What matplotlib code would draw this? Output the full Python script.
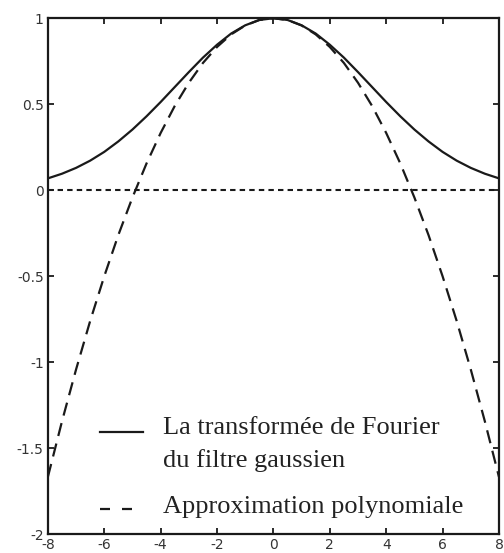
import matplotlib.pyplot as plt

plt.rcParams['axes.unicode_minus'] = False

# Valeurs
x = [-8, -7.5, -7, -6.5, -6, -5.5, -5, -4.5, -4, -3.5, -3, -2.5, -2, -1.5, -1, -0.5,
     0, 0.5, 1, 1.5, 2, 2.5, 3, 3.5, 4, 4.5, 5, 5.5, 6, 6.5, 7, 7.5, 8]
tf_gauss = [0.069, 0.096, 0.130, 0.172, 0.223, 0.284, 0.353, 0.430, 0.513, 0.600,
            0.687, 0.771, 0.846, 0.911, 0.959, 0.990, 1.0, 0.990, 0.959, 0.911,
            0.846, 0.771, 0.687, 0.600, 0.513, 0.430, 0.353, 0.284, 0.223, 0.172,
            0.130, 0.096, 0.069]
approx_poly = [-1.667, -1.344, -1.042, -0.760, -0.500, -0.260, -0.042, 0.156, 0.333,
               0.490, 0.625, 0.740, 0.833, 0.906, 0.958, 0.990, 1.0, 0.990, 0.958,
               0.906, 0.833, 0.740, 0.625, 0.490, 0.333, 0.156, -0.042, -0.260,
               -0.500, -0.760, -1.042, -1.344, -1.667]
zero_x = [-8, 8]
zero_y = [0, 0]

xticks = [-8, -6, -4, -2, 0, 2, 4, 6, 8]
yticks = [-2, -1.5, -1, -0.5, 0, 0.5, 1]
ytick_labels = ['-2', '-1.5', '-1', '-0.5', '0', '0.5', '1']

label_tf = ['La transformée de Fourier', 'du filtre gaussien']
label_poly = 'Approximation polynomiale'

noir = '#1a1a1a'

fig = plt.figure(figsize=(5.04, 5.53), dpi=100)
ax = fig.add_axes([0.095, 0.034, 0.895, 0.933])

ax.plot(x, tf_gauss, color=noir, lw=1.6)
ax.plot(x, approx_poly, color=noir, lw=1.6, linestyle=(0, (6, 3.5)))
ax.plot(zero_x, zero_y, color=noir, lw=1.5, linestyle=(0, (2.6, 2)))

ax.set_xlim(-8, 8)
ax.set_ylim(-2, 1)
ax.set_xticks(xticks)
ax.set_yticks(yticks)
ax.set_yticklabels(ytick_labels)
ax.tick_params(direction='in', length=4, width=1.3, top=True, right=True,
               labelsize=10, labelcolor='#333333', pad=3, color=noir)
for lab in ax.get_xticklabels() + ax.get_yticklabels():
    lab.set_family('DejaVu Sans')
for s in ax.spines.values():
    s.set_linewidth(1.6)
    s.set_color(noir)

# légende faite à la main (la 1re ligne est alignée sur le trait)
tr = ax.transAxes
ax.plot([0.115, 0.211], [0.198, 0.198], color=noir, lw=1.6, transform=tr)
ax.plot([0.115, 0.186], [0.0484, 0.0484], color=noir, lw=1.6,
        dashes=(4.5, 5.4), transform=tr)
police = dict(family='Liberation Serif', size=19, color='#222222')
ax.text(0.255, 0.194, label_tf[0], transform=tr, va='baseline', ha='left', **police)
ax.text(0.255, 0.130, label_tf[1], transform=tr, va='baseline', ha='left', **police)
ax.text(0.255, 0.0407, label_poly, transform=tr, va='baseline', ha='left', **police)

fig.savefig('out.png', dpi=100)
